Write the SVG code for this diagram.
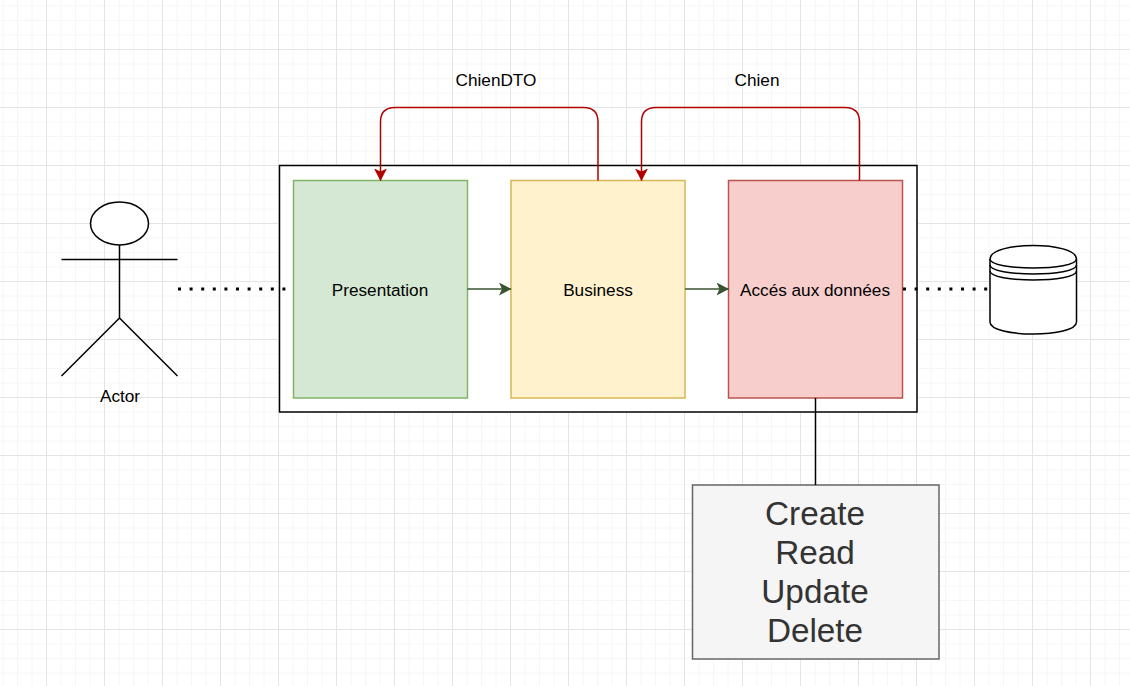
<svg xmlns="http://www.w3.org/2000/svg" width="1130" height="686" viewBox="0 0 1130 686">
<defs>
<pattern id="grid" width="58" height="58" patternUnits="userSpaceOnUse" x="46" y="49">
<path d="M15 0V58M29.500 0V58M44 0V58M0 15H58M0 29.500H58M0 44H58" fill="none" stroke="#f6f6f6" stroke-width="1"/>
<path d="M0.500 0V58M0 0.500H58" fill="none" stroke="#e4e4e4" stroke-width="1"/>
</pattern>
<marker id="red" markerUnits="userSpaceOnUse" markerWidth="14" markerHeight="14" refX="12" refY="6.5" orient="auto"><path d="M0 0L12.500 6.500L0 13L3 6.500Z" fill="#b20000"/></marker>
<marker id="green" markerUnits="userSpaceOnUse" markerWidth="14" markerHeight="14" refX="12" refY="6.500" orient="auto"><path d="M0 0L12.500 6.500L0 13L3 6.500Z" fill="#3a5431"/></marker>
</defs>
<style>
text{font-family:"Liberation Sans",Arial,sans-serif;font-size:17.200px;fill:#000;text-anchor:middle}
.big{font-size:33.300px;fill:#333}
.ln{fill:none;stroke:#000;stroke-width:1.500}
.red{fill:none;stroke:#b20000;stroke-width:1.500;marker-end:url(#red)}
.grn{fill:none;stroke:#3a5431;stroke-width:1.500;marker-end:url(#green)}
.dot{fill:none;stroke:#000;stroke-width:3;stroke-dasharray:3 8.600}
</style>
<rect width="1130" height="686" fill="#fff"/>
<rect width="1130" height="686" fill="url(#grid)"/>
<g id="container"><rect x="279.500" y="165.500" width="637.500" height="246.500" fill="#fff" stroke="#000" stroke-width="1.500"/></g>
<g id="presentation"><rect x="293.500" y="180.500" width="174" height="217.500" fill="#d5e8d4" stroke="#82b366" stroke-width="1.500"/><text x="380" y="296">Presentation</text></g>
<g id="business"><rect x="511" y="180.500" width="174" height="217.500" fill="#fff2cc" stroke="#d6b656" stroke-width="1.500"/><text x="598" y="296">Business</text></g>
<g id="data"><rect x="728.500" y="180.500" width="174" height="217.500" fill="#f8cecc" stroke="#b85450" stroke-width="1.500"/><text x="815" y="296">Accés aux données</text></g>
<g id="crud"><rect x="692.500" y="485" width="246.500" height="174" fill="#f5f5f5" stroke="#666" stroke-width="1.500"/>
<text class="big" x="815" y="525">Create</text><text class="big" x="815" y="564">Read</text><text class="big" x="815" y="603">Update</text><text class="big" x="815" y="642">Delete</text></g>
<g id="actor" class="ln"><ellipse cx="119.500" cy="223.500" rx="29" ry="21.500" fill="#fff"/><path d="M119.500 245V318M61.500 259.500H177.500M119.500 318L61.500 376M119.500 318L177.500 376"/></g>
<text x="120" y="402">Actor</text>
<g id="database"><path d="M990 259C990 241 1076.500 241 1076.500 259V322C1076.500 338 990 338 990 322Z" fill="#fff" stroke="#000" stroke-width="1.500"/><path d="M990 259C990 271 1076.500 271 1076.500 259M990 265C990 277 1076.500 277 1076.500 265M990 271C990 283 1076.500 283 1076.500 271" fill="none" stroke="#000" stroke-width="1.500"/></g>
<g id="connectors">
<path class="grn" d="M467.500 289H511"/>
<path class="grn" d="M685 289H728.500"/>
<path class="red" d="M598 180.500V122Q598 107.500 583.500 107.500H395Q380.500 107.500 380.500 122V180.500"/>
<path class="red" d="M859.500 180.500V122Q859.500 107.500 845 107.500H656Q641.500 107.500 641.500 122V180.500"/>
<path class="ln" d="M815.500 398V485"/>
<path class="dot" d="M178 289H293"/>
<path class="dot" d="M903 289H990"/>
</g>
<text x="496" y="85.500">ChienDTO</text>
<text x="757" y="85.500">Chien</text>
</svg>
